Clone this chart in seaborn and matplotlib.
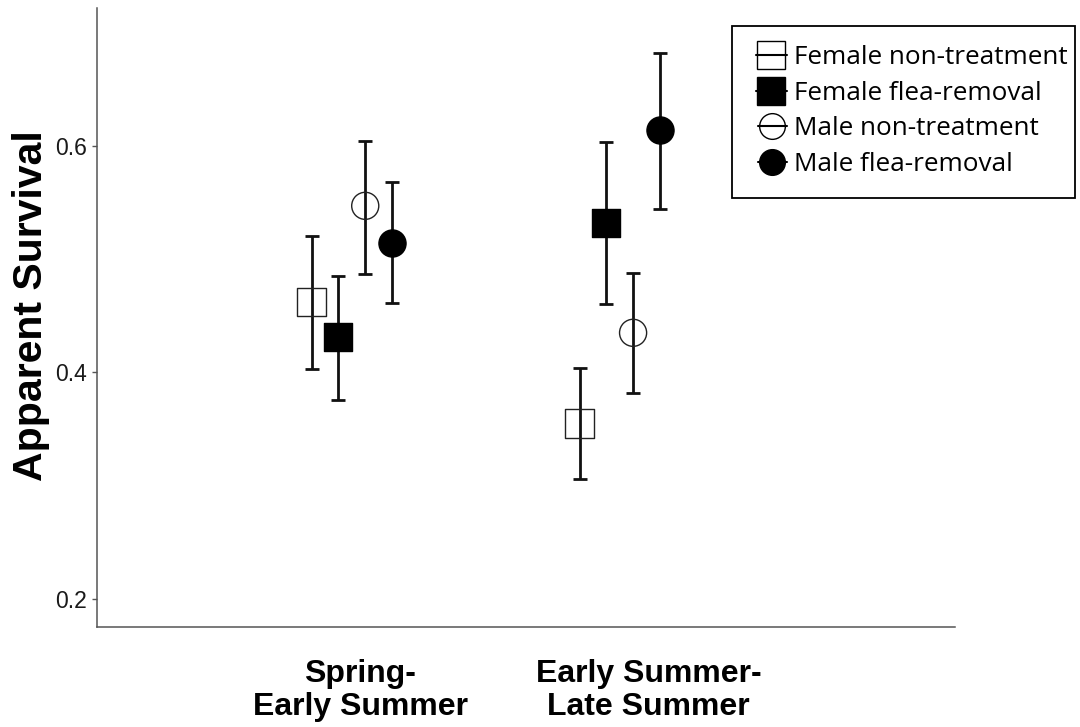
import numpy as np
import pandas as pd
import matplotlib
matplotlib.use("Agg")
import matplotlib.pyplot as plt
import seaborn as sns
from matplotlib.lines import Line2D
from matplotlib.patches import Rectangle
from matplotlib.legend_handler import HandlerBase

# Survival estimates with 95% CI per period and group
periods = ["Spring-\nEarly Summer", "Early Summer-\nLate Summer"]
groups = ["Female non-treatment", "Female flea-removal",
          "Male non-treatment", "Male flea-removal"]

fem_ctrl_est = [0.462, 0.355]
fem_ctrl_lo = [0.403, 0.306]
fem_ctrl_hi = [0.520, 0.404]

fem_flea_est = [0.431, 0.532]
fem_flea_lo = [0.376, 0.460]
fem_flea_hi = [0.485, 0.603]

male_ctrl_est = [0.547, 0.435]
male_ctrl_lo = [0.487, 0.382]
male_ctrl_hi = [0.604, 0.488]

male_flea_est = [0.514, 0.614]
male_flea_lo = [0.461, 0.544]
male_flea_hi = [0.568, 0.682]

y_ticks = [0.2, 0.4, 0.6]

series = {
    groups[0]: (fem_ctrl_est, fem_ctrl_lo, fem_ctrl_hi),
    groups[1]: (fem_flea_est, fem_flea_lo, fem_flea_hi),
    groups[2]: (male_ctrl_est, male_ctrl_lo, male_ctrl_hi),
    groups[3]: (male_flea_est, male_flea_lo, male_flea_hi),
}

rows = []
for gi, g in enumerate(groups):
    est, lo, hi = series[g]
    for pi in range(len(periods)):
        rows.append(dict(period=pi + 1, group=g, gidx=gi,
                         survival=est[pi], lo=lo[pi], hi=hi[pi]))
df = pd.DataFrame(rows)

# dodge the four groups around each period position
dodge = 0.1
df["x"] = df["period"] + (df["gidx"] - 1.5) * dodge

styles = {
    groups[0]: dict(marker="s", size=20.5, face="none"),
    groups[1]: dict(marker="s", size=20.5, face="black"),
    groups[2]: dict(marker="o", size=19.5, face="none"),
    groups[3]: dict(marker="o", size=19.5, face="black"),
}

sns.set_theme(style="white")
plt.rcParams["font.family"] = ["Liberation Sans", "DejaVu Sans"]

W, H = 1080, 727
fig = plt.figure(figsize=(W / 100, H / 100), dpi=100)
ax = fig.add_axes([0.0898, 0.138, 0.7945, 0.851])

bar_color = "#111111"
for g in groups:
    sub = df[df["group"] == g]
    st = styles[g]
    ax.errorbar(sub["x"], sub["survival"],
                yerr=[sub["survival"] - sub["lo"], sub["hi"] - sub["survival"]],
                fmt="none", ecolor=bar_color, elinewidth=2.0,
                capsize=4.8, capthick=2.0, zorder=2)
    sns.scatterplot(data=sub, x="x", y="survival", ax=ax,
                    marker=st["marker"], s=st["size"] ** 2,
                    color="black", facecolor=st["face"],
                    edgecolor="#222222" if st["face"] == "none" else "black",
                    linewidth=1.0, zorder=3, legend=False)

ax.set_xlim(0.0485, 3.252)
ax.set_ylim(0.1758, 0.7215)
ax.set_yticks(y_ticks)
ax.set_yticklabels([f"{t:.1f}" for t in y_ticks])
ax.tick_params(axis="y", length=3.4, width=1.0, color="#555555",
               labelsize=16.5, labelcolor="#1a1a1a", pad=4, left=True)

# period labels sit slightly right of each dodged group
label_shift = [0.031, 0.108]
ax.set_xticks([p + s for p, s in zip([1, 2], label_shift)])
ax.set_xticklabels(periods, fontsize=23, fontweight="bold",
                   color="black", linespacing=1.12)
ax.tick_params(axis="x", length=0, pad=23.5)

ax.set_xlabel("")
ax.set_ylabel("Apparent Survival", fontsize=29.5, fontweight="bold",
              color="black")
ax.yaxis.set_label_coords(-0.0545, 0.5186)

for side in ["top", "right"]:
    ax.spines[side].set_visible(False)
for side in ["left", "bottom"]:
    ax.spines[side].set_color("#555555")
    ax.spines[side].set_linewidth(1.1)


class StubMarkerHandler(HandlerBase):
    """Marker at the right end of the handle box with a short line through it."""

    def create_artists(self, legend, orig_handle, xdescent, ydescent,
                       width, height, fontsize, trans):
        ms = orig_handle.get_markersize()
        yc = height / 2 - ydescent
        xc = width - xdescent - ms / 2 - 1.5
        half = ms / 2 + 1.2
        line = Line2D([xc - half, xc + half], [yc, yc],
                      color=orig_handle.get_color(),
                      linewidth=orig_handle.get_linewidth(), transform=trans)
        mk = Line2D([xc], [yc], linestyle="none",
                    marker=orig_handle.get_marker(), markersize=ms,
                    markerfacecolor=orig_handle.get_markerfacecolor(),
                    markeredgecolor=orig_handle.get_markeredgecolor(),
                    markeredgewidth=orig_handle.get_markeredgewidth(),
                    transform=trans)
        return [line, mk]


handles = []
for g in groups:
    st = styles[g]
    handles.append(Line2D([], [], color="black", linewidth=1.5,
                          marker=st["marker"], markersize=st["size"] - 1,
                          markerfacecolor=st["face"],
                          markeredgecolor="black", markeredgewidth=1.0))

leg_size = 18.8
leg = ax.legend(handles, groups, loc="upper left",
                bbox_to_anchor=(750 / W, 1 - 45 / H),
                bbox_transform=fig.transFigure, borderaxespad=0,
                frameon=False, borderpad=0,
                handlelength=37 / (leg_size * 100 / 72),
                handletextpad=0.25, labelspacing=0.41,
                prop=dict(family="Open Sans", size=leg_size),
                handler_map={Line2D: StubMarkerHandler()})
for t in leg.get_texts():
    t.set_color("black")

# legend box
fig.patches.append(Rectangle((732 / W, 1 - 198 / H), (1075 - 732) / W,
                             (198 - 26) / H, transform=fig.transFigure,
                             facecolor="none", edgecolor="black",
                             linewidth=1.3, zorder=5))

fig.savefig("out.png", dpi=100)
